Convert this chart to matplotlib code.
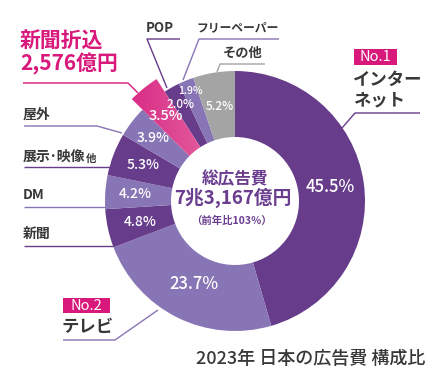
import numpy as np
import matplotlib
matplotlib.use("Agg")
import matplotlib.pyplot as plt
from matplotlib.patches import Rectangle

plt.rcParams['font.family'] = ['Noto Sans CJK JP', 'DejaVu Sans']

# data (clockwise from 12 o'clock)
media = ['インターネット', 'テレビ', '新聞', 'DM', '展示・映像他', '屋外',
         '新聞折込', 'POP', 'フリーペーパー', 'その他']
share = [45.5, 23.7, 4.8, 4.2, 5.3, 3.9, 3.5, 2.0, 1.9, 5.2]
pct_labels = ['45.5%', '23.7%', '4.8%', '4.2%', '5.3%', '3.9%', '3.5%', '2.0%', '1.9%', '5.2%']
total_text = '7兆3,167億円'
yoy_text = '（前年比103％）'
orikomi_text = '2,576億円'
title = '2023年 日本の広告費 構成比'

DARK = '#673c8b'
LIGHT = '#8875b5'
GREY = '#a4a4a4'
PINK = '#d8197b'
TXT = '#383838'
colors = [DARK, LIGHT, DARK, LIGHT, DARK, LIGHT, PINK, DARK, LIGHT, GREY]
lab_r = [96, 93, 97, 100, 99, 103, 110, 111, 119, 96]
lab_fs = [12, 12, 10, 10, 10, 10, 10.5, 8.5, 7.5, 8.5]

W, H = 440, 380
def Y(y):
    return H - y

fig = plt.figure(figsize=(4.4, 3.8), dpi=100)
ax = fig.add_axes([0, 0, 1, 1])

cx, cy = 235, Y(201)
R, r_in = 130, 64
wedges, _ = ax.pie(share, colors=colors, startangle=90, counterclock=False,
                   radius=R, center=(cx, cy), frame=True,
                   wedgeprops=dict(width=R - r_in, linewidth=0))

# 新聞折込 pops out + gradient fill
pw = wedges[6]
pw.set_radius(145)
pw.set_width(145 - r_in)
pw.set_facecolor('none')
grad = np.linspace(0, 1, 100).reshape(1, -1)
cmap = matplotlib.colors.LinearSegmentedColormap.from_list('pk', ['#d3117a', '#e2579a'])
im = ax.imshow(grad, cmap=cmap, extent=(85, 200, Y(160), Y(55)), aspect='auto', zorder=1.5)
im.set_clip_path(pw)

# percent labels
cum = np.cumsum([0] + share[:-1])
for i, v in enumerate(share):
    mid = np.deg2rad((cum[i] + v / 2) * 3.6)
    x = cx + lab_r[i] * np.sin(mid)
    y = cy + lab_r[i] * np.cos(mid)
    ax.text(x, y, pct_labels[i], color='white', fontsize=lab_fs[i],
            ha='center', va='center', fontweight='medium', zorder=5)

# center text
ax.text(cx, Y(179), '総広告費', color='#6a3d8e', fontsize=12, fontweight='bold', ha='center', va='center')
ax.text(cx - 2, Y(198), total_text, color='#6a3d8e', fontsize=13.5, fontweight='bold', ha='center', va='center')
ax.text(cx - 3, Y(221), yoy_text, color='#6a3d8e', fontsize=7.5, fontweight='bold', ha='center', va='center')

def leader(pts, color):
    xs = [p[0] for p in pts]
    ys = [Y(p[1]) for p in pts]
    ax.plot(xs, ys, color=color, lw=1, solid_capstyle='butt', zorder=4)

# outside labels
ax.text(20, Y(41), '新聞折込', color=PINK, fontsize=15, fontweight='bold', va='center')
ax.text(20, Y(64), orikomi_text, color=PINK, fontsize=15, fontweight='bold', va='center')
leader([(23, 83), (128, 83), (138, 93)], PINK)

ax.text(160, Y(28), 'POP', color=TXT, fontsize=9.5, fontweight='bold', ha='center', va='center')
leader([(180, 39), (147, 39), (167, 88)], DARK)

ax.text(238, Y(28), 'フリーペーパー', color=TXT, fontsize=8.5, fontweight='bold', ha='center', va='center')
leader([(279, 39), (199, 39), (183, 80)], LIGHT)

ax.text(243, Y(53), 'その他', color=TXT, fontsize=9.5, fontweight='bold', ha='center', va='center')
leader([(265, 64), (220, 64), (217, 72)], GREY)

ax.add_patch(Rectangle((354, Y(65)), 43, 16, color=PINK, lw=0))
ax.text(375.5, Y(57), 'No.1', color='white', fontsize=10.5, ha='center', va='center')
ax.text(353, Y(80), 'インター', color=TXT, fontsize=12.5, fontweight='bold', va='center')
ax.text(353, Y(100), 'ネット', color=TXT, fontsize=12.5, fontweight='bold', va='center')
leader([(420, 113), (355, 113), (342, 128)], DARK)

ax.text(23, Y(115), '屋外', color=TXT, fontsize=10, fontweight='bold', va='center')
leader([(24, 126), (97, 126), (122, 133)], LIGHT)

# 展示･映像 + small 他
t = ax.text(23, Y(157), '展示･映像', color=TXT, fontsize=10, fontweight='bold', va='center')
fig.canvas.draw()
bb = t.get_window_extent().transformed(ax.transData.inverted())
ax.text(bb.x1 + 0.5, Y(158.5), '他', color=TXT, fontsize=7.5, fontweight='bold', va='center')
leader([(24, 167), (110, 167)], DARK)

ax.text(23, Y(195), 'DM', color=TXT, fontsize=10, fontweight='bold', va='center')
leader([(24, 207), (106, 207)], LIGHT)

ax.text(23, Y(234), '新聞', color=TXT, fontsize=10, fontweight='bold', va='center')
leader([(24, 246), (113, 246)], DARK)

ax.add_patch(Rectangle((63, Y(313)), 47, 15, color=PINK, lw=0))
ax.text(86.5, Y(305.5), 'No.2', color='white', fontsize=10.5, ha='center', va='center')
ax.text(62, Y(327), 'テレビ', color=TXT, fontsize=12.5, fontweight='bold', va='center')
leader([(63, 340), (115, 340), (158, 310)], LIGHT)

ax.text(425, Y(359), title, color=TXT, fontsize=13, fontweight='medium', ha='right', va='center')

ax.set_xlim(0, W)
ax.set_ylim(0, H)
ax.set_aspect('auto')
ax.axis('off')
fig.savefig('out.png', dpi=100, facecolor='white')
